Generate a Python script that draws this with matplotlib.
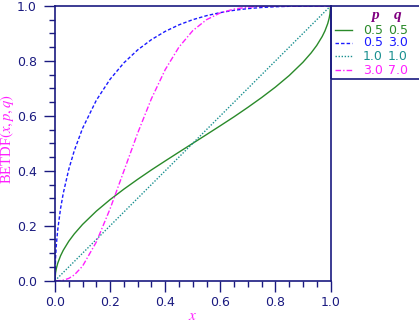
import matplotlib
matplotlib.use("Agg")
import matplotlib.pyplot as plt
from matplotlib.lines import Line2D
from matplotlib.patches import Rectangle
from matplotlib.ticker import MultipleLocator, FormatStrFormatter

# Beta CDF values for four (p, q) shape pairs
x_vals = [0.0, 0.002, 0.005, 0.01, 0.02, 0.03, 0.05, 0.07, 0.1, 0.15, 0.2,
          0.25, 0.3, 0.35, 0.4, 0.45, 0.5, 0.55, 0.6, 0.65, 0.7, 0.75, 0.8,
          0.85, 0.9, 0.93, 0.95, 0.97, 0.98, 0.99, 0.995, 0.998, 1.0]

cdf_05_05 = [0.0, 0.0285, 0.0451, 0.0638, 0.0903, 0.1108, 0.1436, 0.1704,
             0.2048, 0.2532, 0.2952, 0.3333, 0.3690, 0.4033, 0.4359, 0.4681,
             0.5000, 0.5319, 0.5641, 0.5967, 0.6310, 0.6667, 0.7048, 0.7468,
             0.7952, 0.8296, 0.8564, 0.8892, 0.9097, 0.9362, 0.9549, 0.9715,
             1.0]
cdf_05_30 = [0.0, 0.0837, 0.1321, 0.1863, 0.2617, 0.3183, 0.4055, 0.4734,
             0.5546, 0.6568, 0.7334, 0.7930, 0.8401, 0.8776, 0.9076, 0.9314,
             0.9502, 0.9648, 0.9760, 0.9844, 0.9904, 0.9946, 0.9973, 0.9989,
             0.9997, 0.9999, 1.0, 1.0, 1.0, 1.0, 1.0, 1.0, 1.0]
cdf_10_10 = [0.0, 0.002, 0.005, 0.01, 0.02, 0.03, 0.05, 0.07, 0.1, 0.15, 0.2,
             0.25, 0.3, 0.35, 0.4, 0.45, 0.5, 0.55, 0.6, 0.65, 0.7, 0.75, 0.8,
             0.85, 0.9, 0.93, 0.95, 0.97, 0.98, 0.99, 0.995, 0.998, 1.0]
cdf_30_70 = [0.0, 0.0, 0.00001, 0.00008, 0.0006, 0.0019, 0.0084, 0.0209,
             0.0530, 0.1409, 0.2618, 0.3993, 0.5372, 0.6627, 0.7682, 0.8505,
             0.9102, 0.9502, 0.9750, 0.9888, 0.9957, 0.9987, 0.9997, 1.0,
             1.0, 1.0, 1.0, 1.0, 1.0, 1.0, 1.0, 1.0, 1.0]

p_labels = ["0.5", "0.5", "1.0", "3.0"]
q_labels = ["0.5", "3.0", "1.0", "7.0"]
series = [cdf_05_05, cdf_05_30, cdf_10_10, cdf_30_70]
colors = ["#2a8a2a", "#1a1aff", "#1a9090", "#ff20ff"]
styles = ["-", (0, (2.5, 1.5)), (0, (1, 1.2)), (0, (4, 1.5, 1, 1.5))]

navy = "#1a1a80"
magenta = "#ff20ff"
plt.rcParams["mathtext.fontset"] = "stix"

fig = plt.figure(figsize=(4.19, 3.23), dpi=100)
W, H = 419, 323
ax = fig.add_axes([55 / W, (H - 280.7) / H, 275.5 / W, 274.7 / H])

for ys, c, ls in zip(series, colors, styles):
    ax.plot(x_vals, ys, color=c, linestyle=ls, linewidth=1.0)

ax.set_xlim(0, 1)
ax.set_ylim(0, 1)
for axis in (ax.xaxis, ax.yaxis):
    axis.set_major_locator(MultipleLocator(0.2))
    axis.set_minor_locator(MultipleLocator(0.05))
    axis.set_major_formatter(FormatStrFormatter("%.1f"))
for s in ax.spines.values():
    s.set_color(navy)
    s.set_linewidth(1.2)
ax.tick_params(which="both", direction="out", color=navy, labelcolor=navy,
               labelsize=9, width=1.0, top=False, right=False)
ax.tick_params(which="major", length=8)
ax.tick_params(which="minor", length=4.5)
ax.tick_params(axis="y", which="major", pad=5)
ax.tick_params(axis="x", which="major", pad=3)

ax.set_xlabel(r"$x$", color=magenta, fontsize=11)
ax.xaxis.set_label_coords(0.5, -27 / 274.7)
ax.set_ylabel(r"BETDF$(x, p, q)$", color=magenta, fontsize=10.5,
              family="Liberation Serif")
ax.yaxis.set_label_coords(-38.5 / 275.5, 0.515)

# Legend block at the right edge of the plot
fig.patches.append(Rectangle((330.7 / W, (H - 79) / H), 120 / W, 73 / H,
                             transform=fig.transFigure, fill=False,
                             edgecolor=navy, linewidth=1.2))
for hx, htxt in ((375, "p"), (398, "q")):
    fig.text(hx / W, 1 - 15 / H, htxt, color="#800080", fontsize=11,
             family="Liberation Serif", style="italic", weight="bold",
             ha="center", va="center")
row_y = [30, 43, 56, 70]
for ry, c, ls, pl, ql in zip(row_y, colors, styles, p_labels, q_labels):
    yy = 1 - ry / H
    fig.add_artist(Line2D([335 / W, 352 / W], [yy, yy], color=c,
                          linestyle=ls, linewidth=1.0,
                          transform=fig.transFigure))
    fig.text(373 / W, yy, pl, color=c, fontsize=9, ha="center", va="center")
    fig.text(398 / W, yy, ql, color=c, fontsize=9, ha="center", va="center")

fig.savefig("out.png", dpi=100)
